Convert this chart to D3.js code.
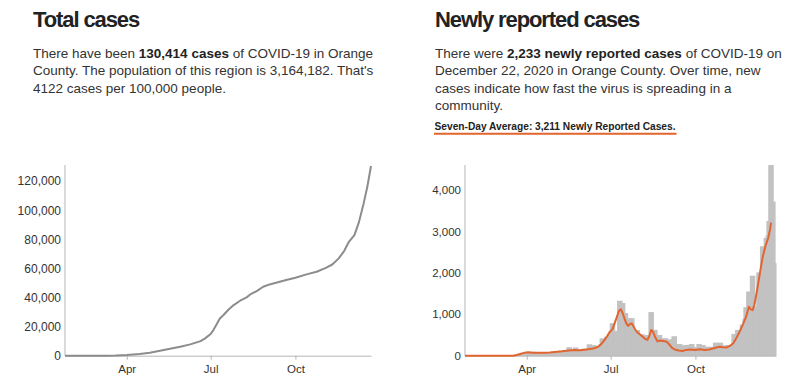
<!DOCTYPE html>
<html>
<head>
<meta charset="utf-8">
<script src="https://cdn.jsdelivr.net/npm/d3@7"></script>
<style>
  html, body { margin: 0; padding: 0; background: #fff; }
  svg { display: block; font-family: Helvetica, Arial, "Liberation Sans", sans-serif; }
</style>
</head>
<body>
<svg id="chart" width="792" height="383"></svg>
<script>
// ---------------- DATA ----------------
const startDate = "2020-01-25";

// Daily newly reported cases, one value per day from Jan 25 to Dec 22, 2020
const dailyCases = [
  // Jan 25-31
  1,0,0,0,0,0,0,
  // Feb
  0,0,0,0,0,0,0,0,0,0,0,0,0,0,0,0,0,0,0,0,0,0,0,0,0,0,0,0,0,
  // Mar
  0,0,0,0,0,1,0,2,1,3,4,5,3,8,6,11,10,17,25,30,37,45,50,52,68,55,63,72,60,75,80,
  // Apr
  82,90,65,70,95,60,72,85,78,62,70,58,55,75,80,68,72,88,60,55,70,85,82,90,76,60,70,95,100,90,
  // May
  105,80,110,95,120,90,85,115,130,105,95,100,120,205,140,110,118,100,105,135,200,130,140,120,150,140,110,135,150,170,155,
  // Jun
  160,140,175,150,276,170,130,190,250,250,175,180,210,230,220,240,230,280,420,330,250,310,380,460,400,430,520,500,600,785,
  // Jul
  560,580,560,580,570,590,600,1325,1150,1200,1270,1000,950,1027,850,800,780,905,700,650,905,560,540,623,500,480,620,500,518,450,470,
  // Aug
  518,480,500,490,460,500,420,400,380,420,1052,600,580,550,623,480,450,470,430,500,400,380,350,360,400,425,340,330,300,320,395,
  // Sep
  300,320,350,400,470,250,200,230,260,280,280,200,180,220,240,230,255,180,200,260,150,190,220,283,200,150,120,180,210,200,
  // Oct
  180,283,200,150,160,259,180,200,218,150,120,170,210,218,190,200,150,130,200,315,250,260,240,200,315,200,230,250,240,230,180,
  // Nov
  200,260,250,240,230,220,250,260,526,400,450,500,623,450,400,500,600,750,700,720,900,1170,1000,1100,1550,1400,1300,1200,1930,1100,
  // Dec 1-22
  1150,1190,1100,1150,1180,2010,1800,1900,1950,2640,2400,2300,2500,2840,2700,2900,3250,2300,4600,3500,3720,2233
];

// Seven-day average line
const avgDates = [
  "2020-01-25","2020-03-17","2020-03-21","2020-03-25","2020-03-28","2020-03-31","2020-04-03","2020-04-07",
  "2020-04-14","2020-04-20","2020-04-26","2020-05-04","2020-05-10","2020-05-14","2020-05-22","2020-05-29",
  "2020-06-05","2020-06-12","2020-06-17","2020-06-20","2020-06-23","2020-06-25","2020-06-27","2020-06-30",
  "2020-07-03","2020-07-05","2020-07-08","2020-07-10","2020-07-12","2020-07-14","2020-07-16","2020-07-18",
  "2020-07-20","2020-07-22","2020-07-24","2020-07-26","2020-07-28","2020-07-30","2020-08-02","2020-08-05",
  "2020-08-08","2020-08-10","2020-08-12","2020-08-14","2020-08-16","2020-08-18","2020-08-21","2020-08-24",
  "2020-08-27","2020-08-31","2020-09-03","2020-09-06","2020-09-09","2020-09-13","2020-09-17","2020-09-21",
  "2020-09-26","2020-10-01","2020-10-06","2020-10-11","2020-10-16","2020-10-21","2020-10-27","2020-10-31",
  "2020-11-04","2020-11-07","2020-11-11","2020-11-14","2020-11-18","2020-11-22","2020-11-25","2020-11-28",
  "2020-11-30","2020-12-02","2020-12-04","2020-12-07","2020-12-10","2020-12-13","2020-12-16","2020-12-19",
  "2020-12-21","2020-12-22"
];
const avgValues = [
  0,0,15,40,62,78,82,72,
  70,74,78,95,105,120,135,132,
  150,175,210,260,340,400,460,570,
  640,760,950,1080,1120,1030,900,780,
  720,760,780,700,620,560,510,450,
  400,380,480,620,580,460,345,365,
  355,335,260,180,145,125,115,140,
  150,140,155,140,150,180,215,205,
  200,230,300,410,580,780,940,1180,
  1120,1100,1230,1590,2000,2380,2650,2840,
  3050,3211
];

// Cumulative total cases
const cumDates = [
  "2020-01-25","2020-03-10","2020-03-20","2020-04-01","2020-04-15","2020-04-26","2020-05-07","2020-05-18",
  "2020-05-29","2020-06-09","2020-06-20","2020-06-25","2020-07-01","2020-07-04","2020-07-08","2020-07-11",
  "2020-07-15","2020-07-20","2020-07-26","2020-08-02","2020-08-09","2020-08-13","2020-08-20","2020-08-27",
  "2020-09-03","2020-09-10","2020-09-21","2020-10-01","2020-10-13","2020-10-24","2020-11-03","2020-11-10",
  "2020-11-17","2020-11-23","2020-11-28","2020-12-04","2020-12-09","2020-12-14","2020-12-18","2020-12-22"
];
const cumValues = [
  0,0,100,460,1150,2060,3400,4800,
  6200,7800,10000,11900,14900,17600,22200,25600,
  28000,31400,34800,37800,40100,42100,44400,47400,
  49000,50100,52000,53600,55900,57700,60400,62700,
  66900,72100,78300,82900,92000,104700,116100,130414
];

const xTickDates = ["2020-04-01","2020-07-01","2020-10-01"];
const xTickLabels = ["Apr","Jul","Oct"];
const leftYTicks = [0,20000,40000,60000,80000,100000,120000];
const rightYTicks = [0,1000,2000,3000,4000];

// ---------------- DRAW ----------------
const parse = d3.timeParse("%Y-%m-%d");
const start = parse(startDate);
const dayDates = dailyCases.map((_, i) => d3.timeDay.offset(start, i));
const endDate = dayDates[dayDates.length - 1];
const fmt = d3.format(",");

const svg = d3.select("#chart");
const textColor = "#333";

// ----- text blocks -----
function title(x, y, t) {
  svg.append("text").attr("x", x).attr("y", y)
    .attr("font-size", 22).attr("font-weight", "bold").attr("letter-spacing", "-1.1px")
    .attr("fill", "#222").text(t);
}
function para(x, y0, lines) {
  const t = svg.append("text").attr("x", x).attr("y", y0)
    .attr("font-size", 13.5).attr("fill", textColor);
  lines.forEach((parts, i) => {
    parts.forEach((p, j) => {
      const ts = t.append("tspan").text(p.t);
      if (j === 0) ts.attr("x", x).attr("y", y0 + i * 17.6);
      if (p.b) ts.attr("font-weight", "bold").attr("fill", "#222");
    });
  });
}
title(33, 27, "Total cases");
para(33, 57.5, [
  [{t: "There have been "}, {t: "130,414 cases", b: true}, {t: " of COVID-19 in Orange"}],
  [{t: "County. The population of this region is 3,164,182. That's"}],
  [{t: "4122 cases per 100,000 people."}]
]);
title(435, 27, "Newly reported cases");
para(435, 57.5, [
  [{t: "There were "}, {t: "2,233 newly reported cases", b: true}, {t: " of COVID-19 on"}],
  [{t: "December 22, 2020 in Orange County. Over time, new"}],
  [{t: "cases indicate how fast the virus is spreading in a"}],
  [{t: "community."}]
]);
const avgLabel = svg.append("text").attr("x", 434.5).attr("y", 130)
  .attr("font-size", 10.2).attr("font-weight", "bold").attr("fill", "#222")
  .text("Seven-Day Average: 3,211 Newly Reported Cases.");
const lblW = avgLabel.node().getComputedTextLength();
svg.append("line").attr("x1", 434).attr("x2", 434.5 + lblW + 1)
  .attr("y1", 133.8).attr("y2", 133.8)
  .attr("stroke", "#e2642e").attr("stroke-width", 2);

// ----- axis styling helper -----
function styleAxis(g, fontSize) {
  g.selectAll(".domain").attr("stroke", "#b5b5b5");
  g.selectAll(".tick line").attr("stroke", "#b5b5b5");
  g.selectAll(".tick text").attr("fill", textColor).attr("font-size", fontSize)
    .attr("font-family", "Helvetica, Arial, 'Liberation Sans', sans-serif");
}

// ----- LEFT: total cases -----
const xL = d3.scaleTime().domain([start, endDate]).range([65, 371]);
const yL = d3.scaleLinear().domain([0, d3.max(cumValues)]).range([355.7, 166]);

const gLy = svg.append("g").attr("transform", `translate(${xL.range()[0]},0)`)
  .call(d3.axisLeft(yL).tickValues(leftYTicks).tickFormat(fmt).tickSize(0).tickPadding(4));
gLy.select(".domain").attr("d", `M0,${yL(0)}V165`);
styleAxis(gLy, 12);

const gLx = svg.append("g").attr("transform", `translate(0,${yL(0)})`)
  .call(d3.axisBottom(xL).tickValues(xTickDates.map(parse))
    .tickFormat((d, i) => xTickLabels[i]).tickSizeInner(4).tickSizeOuter(0).tickPadding(5));
styleAxis(gLx, 11.5);

svg.append("path")
  .datum(cumDates.map((d, i) => ({d: parse(d), v: cumValues[i]})))
  .attr("fill", "none").attr("stroke", "#8c8c8c").attr("stroke-width", 2)
  .attr("stroke-linejoin", "round")
  .attr("d", d3.line().x(p => xL(p.d)).y(p => yL(p.v)));

// ----- RIGHT: newly reported cases -----
const xR = d3.scaleTime().domain([start, endDate]).range([465, 771]);
const yR = d3.scaleLinear().domain([0, d3.max(dailyCases)]).range([355.7, 165]);
const barW = xR(d3.timeDay.offset(start, 6)) - xR(start);

svg.append("g").selectAll("rect")
  .data(dailyCases.map((v, i) => ({d: dayDates[i], v})))
  .join("rect")
  .attr("x", p => xR(p.d))
  .attr("y", p => yR(p.v))
  .attr("width", barW)
  .attr("height", p => yR(0) - yR(p.v))
  .attr("fill", "#c2c2c2");

const gRy = svg.append("g").attr("transform", `translate(${xR.range()[0]},0)`)
  .call(d3.axisLeft(yR).tickValues(rightYTicks).tickFormat(fmt).tickSize(0).tickPadding(4));
gRy.select(".domain").attr("d", `M0,${yR(0)}V165`);
styleAxis(gRy, 11.5);

const gRx = svg.append("g").attr("transform", `translate(0,${yR(0)})`)
  .call(d3.axisBottom(xR).tickValues(xTickDates.map(parse))
    .tickFormat((d, i) => xTickLabels[i]).tickSizeInner(4).tickSizeOuter(0).tickPadding(5));
gRx.select(".domain").attr("d", `M${xR.range()[0]},0.5H${xR(endDate) + barW}`);
styleAxis(gRx, 11.5);

svg.append("path")
  .datum(avgDates.map((d, i) => ({d: parse(d), v: avgValues[i]})))
  .attr("fill", "none").attr("stroke", "#e2642e").attr("stroke-width", 2)
  .attr("stroke-linejoin", "round")
  .attr("d", d3.line().x(p => xR(p.d)).y(p => yR(p.v)));
</script>
</body>
</html>
